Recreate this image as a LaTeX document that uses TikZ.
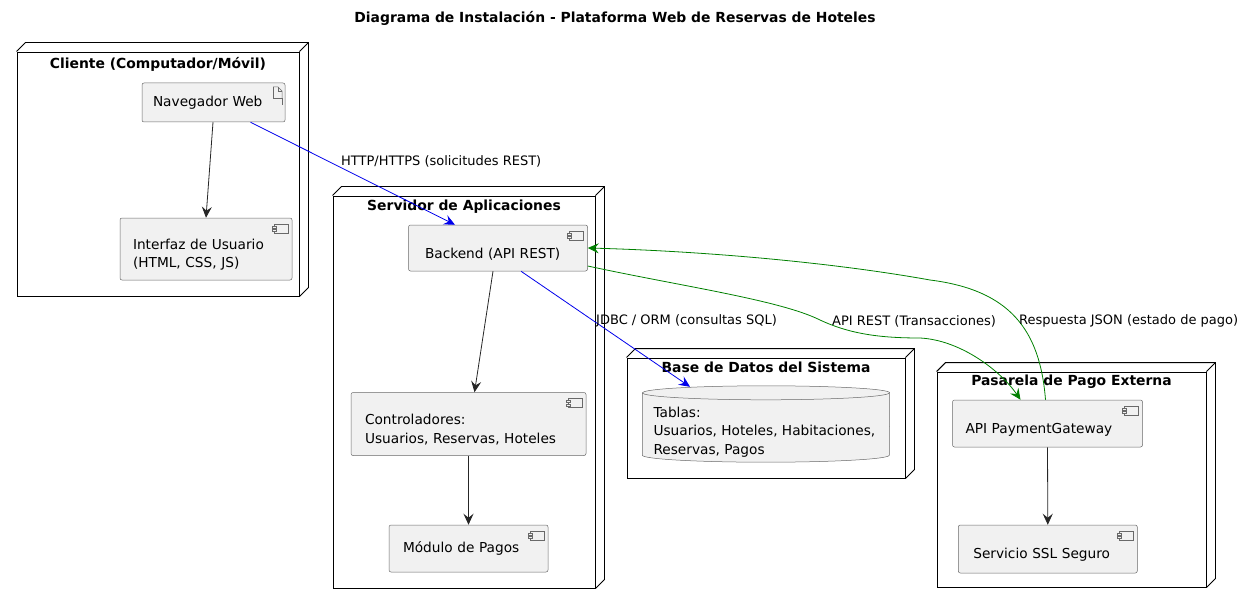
\documentclass[tikz,border=0pt]{standalone}
\usepackage{fontspec}
\setmainfont{DejaVu Sans}
\usepackage{tikz}
\usetikzlibrary{arrows.meta}
\definecolor{compfill}{RGB}{241, 241, 241}
\definecolor{compline}{RGB}{105, 105, 105}
\definecolor{linkblue}{RGB}{0, 0, 235}
\definecolor{linkgreen}{RGB}{0, 128, 0}

\begin{document}
\begin{tikzpicture}[
    x=1pt, y=1pt,
    font=\fontsize{13.7}{18.5}\selectfont,
    nodebox/.style={draw=black, line width=0.9pt},
    nodetitle/.style={font=\fontsize{13.9}{16}\selectfont\bfseries},
    comp/.style={draw=compline, fill=compfill, rounded corners=2pt,
                 line width=0.5pt, align=left,
                 path picture={
                   \draw[sharp corners, draw=compline, line width=0.5pt]
                     ([shift={(-18pt,-6pt)}]path picture bounding box.north east) rectangle ++(14pt,-9pt);
                   \draw[sharp corners, draw=compline, fill=compfill, line width=0.5pt]
                     ([shift={(-20pt,-8pt)}]path picture bounding box.north east) rectangle ++(4pt,-2pt);
                   \draw[sharp corners, draw=compline, fill=compfill, line width=0.5pt]
                     ([shift={(-20pt,-11.5pt)}]path picture bounding box.north east) rectangle ++(4pt,-2pt);
                 }},
    lowtext/.style={execute at begin node={\rule{0pt}{22pt}}},
    artf/.style={draw=compline, fill=compfill, rounded corners=2pt,
                 line width=0.5pt, align=left,
                 path picture={
                   \draw[sharp corners, draw=compline, line width=0.5pt]
                     ([shift={(-12pt,-4pt)}]path picture bounding box.north east)
                     -- ++(0,-11pt) -- ++(9pt,0) -- ++(0,-7pt)
                     -- ++(0,7pt) ++(0,-7pt) -- ++(0,7pt);
                   \draw[sharp corners, draw=compline, line width=0.5pt]
                     ([shift={(-12pt,-4pt)}]path picture bounding box.north east)
                     -- ++(5pt,0) -- ++(4pt,-4pt) -- ++(0,-7pt);
                   \draw[sharp corners, draw=compline, line width=0.5pt]
                     ([shift={(-7pt,-4pt)}]path picture bounding box.north east)
                     -- ++(0,-4pt) -- ++(4pt,0);
                 }},
    dbline/.style={draw=compline, fill=compfill, line width=0.5pt},
    arr/.style={-{Stealth[length=11pt, width=10pt, inset=4pt]}, line width=0.8pt, color=black!85},
    webarr/.style={arr, color=linkblue},
    payarr/.style={arr, color=linkgreen},
    lbl/.style={anchor=west, inner sep=0pt, font=\fontsize{13}{15}\selectfont},
]
\useasboundingbox (0,0) rectangle (1244,-604);

\node[nodetitle] (titulo) at (615,-18) {Diagrama de Instalación - Plataforma Web de Reservas de Hoteles};

% deployment nodes
\node[nodebox, minimum width=282pt, minimum height=244pt] (cliente)   at (158,-174)    {};
\node[nodebox, minimum width=262pt, minimum height=392pt] (servidor)  at (464,-392)    {};
\node[nodebox, minimum width=278pt, minimum height=120pt] (basedatos) at (766,-418)    {};
\node[nodebox, minimum width=269pt, minimum height=215pt] (pasarela)  at (1071.5,-479.5) {};

\draw[nodebox] (cliente.north west) -- ++(9,9) -| ([shift={(9,9)}]cliente.south east) -- (cliente.south east);
\draw[nodebox] (cliente.north east) -- ++(9,9);
\draw[nodebox] (servidor.north west) -- ++(9,9) -| ([shift={(9,9)}]servidor.south east) -- (servidor.south east);
\draw[nodebox] (servidor.north east) -- ++(9,9);
\draw[nodebox] (basedatos.north west) -- ++(9,9) -| ([shift={(9,9)}]basedatos.south east) -- (basedatos.south east);
\draw[nodebox] (basedatos.north east) -- ++(9,9);
\draw[nodebox] (pasarela.north west) -- ++(9,9) -| ([shift={(9,9)}]pasarela.south east) -- (pasarela.south east);
\draw[nodebox] (pasarela.north east) -- ++(9,9);

\node[nodetitle] (cliente-t)   at (158,-64)    {Cliente (Computador/Móvil)};
\node[nodetitle] (servidor-t)  at (464,-207)   {Servidor de Aplicaciones};
\node[nodetitle] (basedatos-t) at (766,-367)   {Base de Datos del Sistema};
\node[nodetitle] (pasarela-t)  at (1071.5,-382) {Pasarela de Pago Externa};

% components
\node[artf, minimum width=143pt, minimum height=39pt, text width=121pt] (nav) at (213.5,-102.5) {Navegador Web};
\node[comp, lowtext, minimum width=172pt, minimum height=62pt, text width=146pt] (ui) at (206,-249) {Interfaz de Usuario\\(HTML, CSS, JS)};
\node[comp, lowtext, minimum width=179pt, minimum height=46pt, text width=146pt] (backend) at (498,-248) {Backend (API REST)};
\node[comp, lowtext, minimum width=235pt, minimum height=63pt, text width=207pt] (ctrl) at (468.5,-424) {Controladores:\\Usuarios, Reservas, Hoteles};
\node[comp, minimum width=159pt, minimum height=47pt, text width=131pt] (pagos) at (468.5,-548.5) {Módulo de Pagos};
\node[comp, lowtext, minimum width=190pt, minimum height=47pt, text width=164pt] (api) at (1047.5,-423.5) {API PaymentGateway};
\node[comp, lowtext, minimum width=179pt, minimum height=48pt, text width=149pt] (ssl) at (1047.8,-549) {Servicio SSL Seguro};

% database
\node[minimum width=247pt, minimum height=76pt, inner sep=0pt] (db) at (766,-424) {};
\draw[dbline] ([yshift=-7pt]db.north west) -- ([yshift=7pt]db.south west)
    arc[start angle=180, end angle=360, x radius=123.5pt, y radius=7pt]
    -- ([yshift=-7pt]db.north east)
    arc[start angle=0, end angle=180, x radius=123.5pt, y radius=7pt] -- cycle;
\draw[dbline, fill=none] ([yshift=-7pt]db.north west)
    arc[start angle=180, end angle=360, x radius=123.5pt, y radius=7pt];
\node[anchor=west, inner sep=0pt, align=left] (tablas) at ([xshift=11pt,yshift=-8pt]db.west) {Tablas:\\Usuarios, Hoteles, Habitaciones,\\Reservas, Pagos};

% connectors
\draw[arr] ([xshift=-0.5pt]nav.south) -- (ui.north);
\draw[arr] ([xshift=-5pt]backend.south) -- ([xshift=6pt]ctrl.north);
\draw[arr] (ctrl.south) -- (pagos.north);
\draw[arr] (api.south) -- (ssl.north);

\draw[webarr] ([xshift=37pt]nav.south) -- ([xshift=-43pt]backend.north);
\draw[webarr] ([xshift=23pt]backend.south) -- ([xshift=-76pt,yshift=-1pt]db.north);

\draw[payarr] ([yshift=-18pt]backend.east)
    .. controls (680,-286) and (780,-300) .. (820,-320)
    .. controls (850,-334) and (880,-338) .. (920,-338)
    .. controls (960,-340) and (1000,-370) .. ([xshift=-27pt]api.north);
\draw[payarr] ([xshift=-2pt]api.north)
    .. controls (1040,-330) and (1010,-290) .. (930,-280)
    .. controls (830,-262) and (700,-251) .. (backend.east);

% connector labels
\node[lbl] (http-l) at (341,-161)  {HTTP/HTTPS (solicitudes REST)};
\node[lbl] (jdbc-l) at (596,-321)  {JDBC / ORM (consultas SQL)};
\node[lbl] (rest-l) at (832,-321)  {API REST (Transacciones)};
\node[lbl] (json-l) at (1019,-321) {Respuesta JSON (estado de pago)};
\end{tikzpicture}
\end{document}
